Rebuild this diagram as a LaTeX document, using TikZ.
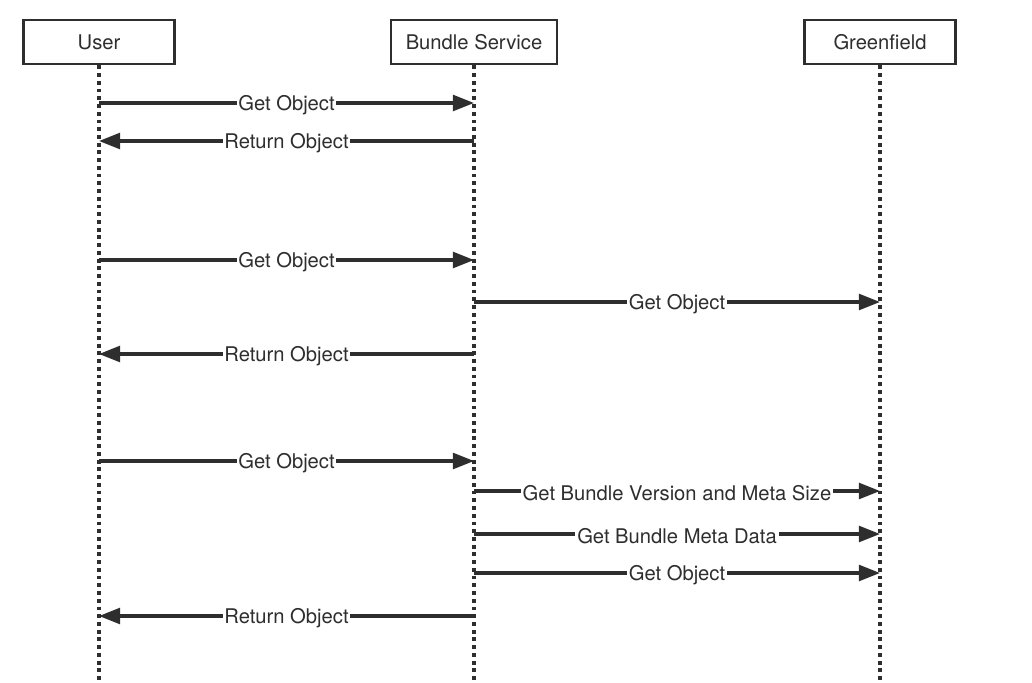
\documentclass[tikz,border=0pt]{standalone}
\usepackage{fontspec}
\setmainfont{TeX Gyre Heros}
\usetikzlibrary{arrows.meta,positioning}
\definecolor{ink}{HTML}{2E2E2E}

\begin{document}
\begin{tikzpicture}[
  x=0.02cm, y=-0.02cm,
  every node/.style={font=\fontsize{11.5}{14}\selectfont, text=ink},
  actor/.style={rectangle, draw=ink, line width=1.6pt, minimum width=3.02cm, minimum height=0.88cm, fill=white},
  lifeline/.style={ink, line width=1.8pt, dash pattern=on 2.2pt off 2.2pt},
  msg/.style={ink, line width=1.8pt, -{Triangle[length=12pt, width=9pt]}},
  lbl/.style={fill=white, inner sep=1pt, yshift=-1pt},
]
\useasboundingbox (0,0) rectangle (1032,683);

% Participants
\node[actor] (user) at (99,42) {User};
\node[actor, minimum width=3.32cm] (bundle) at (474,42) {Bundle Service};
\node[actor] (gf) at (880,42) {Greenfield};

% Lifelines
\coordinate (bottom) at (0,683);
\foreach \p in {user, bundle, gf} {
  \draw[lifeline] (\p) -- (\p |- bottom);
}

% Message rows
\foreach \y [count=\i] in {103,141,260,302,354,461,491,534,573,616} {
  \coordinate (row\i) at (0,\y);
}

% Cached object
\draw[msg] (user |- row1) -- node[lbl] {Get Object} (bundle |- row1);
\draw[msg] (bundle |- row2) -- node[lbl] {Return Object} (user |- row2);

% Plain object from Greenfield
\draw[msg] (user |- row3) -- node[lbl] {Get Object} (bundle |- row3);
\draw[msg] (bundle |- row4) -- node[lbl] {Get Object} (gf |- row4);
\draw[msg] (bundle |- row5) -- node[lbl] {Return Object} (user |- row5);

% Bundled object
\draw[msg] (user |- row6) -- node[lbl] {Get Object} (bundle |- row6);
\draw[msg] (bundle |- row7) -- node[lbl] {Get Bundle Version and Meta Size} (gf |- row7);
\draw[msg] (bundle |- row8) -- node[lbl] {Get Bundle Meta Data} (gf |- row8);
\draw[msg] (bundle |- row9) -- node[lbl] {Get Object} (gf |- row9);
\draw[msg] (bundle |- row10) -- node[lbl] {Return Object} (user |- row10);

\end{tikzpicture}
\end{document}
